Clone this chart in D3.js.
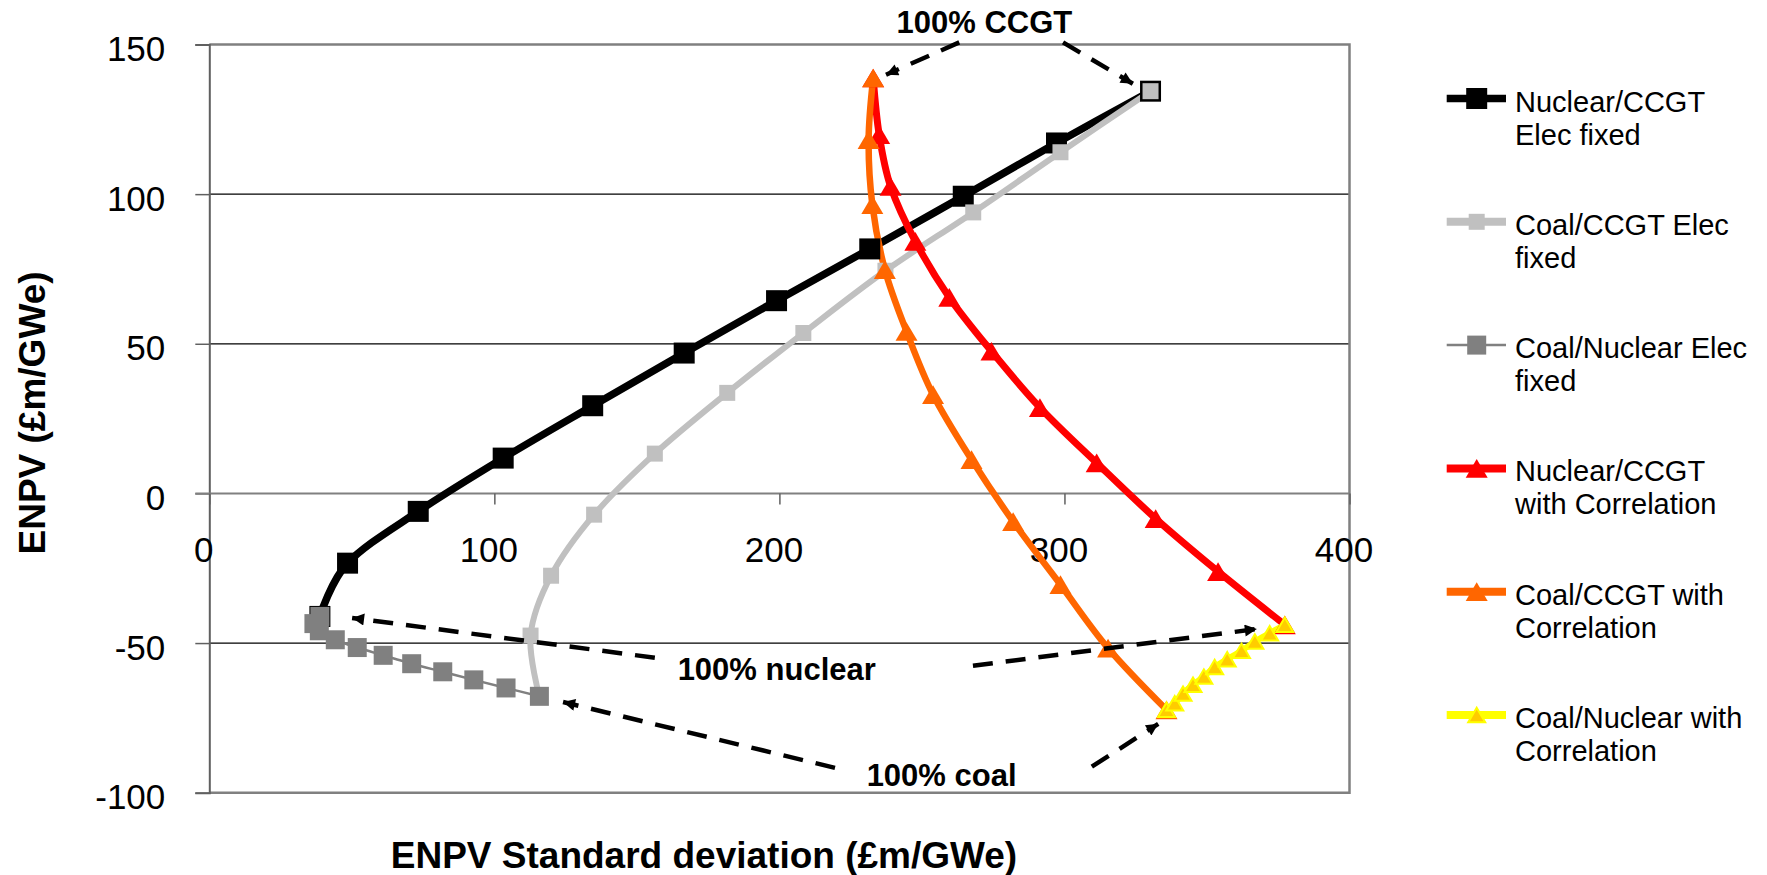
<!DOCTYPE html>
<html>
<head>
<meta charset="utf-8">
<script src="https://cdn.jsdelivr.net/npm/d3@7"></script>
<style>
  body { margin: 0; background: #fff; }
  svg { display: block; }
  text { font-family: Arial, "Liberation Sans", Helvetica, sans-serif; }
</style>
</head>
<body>
<svg id="chart" width="1767" height="875"></svg>
<script>
// ---- Data: ENPV (£m/GWe) against its standard deviation for two-technology portfolios ----
const xTicks = [0, 100, 200, 300, 400];
const yTicks = [150, 100, 50, 0, -50, -100];

// Nuclear/CCGT, electricity price fixed (0% -> 100% CCGT)
const nuclearCcgtFixedSd   = [38.8, 48.5, 73.3, 103.1, 134.5, 166.6, 199.0, 231.7, 264.5, 297.2, 330.2];
const nuclearCcgtFixedEnpv = [-41.1, -23.3, -6.0, 11.8, 29.3, 46.9, 64.4, 81.7, 99.3, 117.1, 134.4];

// Coal/CCGT, electricity price fixed (0% -> 100% CCGT)
const coalCcgtFixedSd   = [115.8, 112.7, 119.9, 135.0, 156.3, 181.7, 208.4, 237.2, 268.0, 298.6, 330.2];
const coalCcgtFixedEnpv = [-67.8, -47.5, -27.5, -7.1, 13.3, 33.6, 53.6, 74.4, 93.9, 114.0, 134.4];

// Coal/Nuclear, electricity price fixed (100% nuclear -> 100% coal)
const coalNuclearFixedSd   = [38.8, 36.7, 38.6, 44.2, 51.9, 61.0, 71.0, 81.9, 92.8, 104.1, 115.8];
const coalNuclearFixedEnpv = [-41.1, -43.5, -45.9, -48.9, -51.5, -54.1, -56.9, -59.6, -62.3, -65.0, -67.8];

// Nuclear/CCGT with correlation (100% CCGT -> 100% nuclear)
const nuclearCcgtCorrSd   = [232.9, 235.0, 239.0, 247.7, 259.6, 274.4, 291.4, 311.3, 332.0, 353.9, 377.3];
const nuclearCcgtCorrEnpv = [138.8, 119.9, 102.6, 84.2, 65.5, 47.5, 28.7, 10.2, -8.4, -26.1, -43.9];

// Coal/CCGT with correlation (100% CCGT -> 100% coal)
const coalCcgtCorrSd   = [232.9, 231.3, 232.6, 237.0, 244.6, 253.9, 267.4, 282.0, 298.6, 315.3, 335.8];
const coalCcgtCorrEnpv = [138.8, 118.2, 96.5, 74.8, 54.1, 33.0, 11.3, -9.4, -30.5, -51.7, -72.3];

// Coal/Nuclear with correlation (100% coal -> 100% nuclear)
const coalNuclearCorrSd   = [335.8, 338.7, 341.6, 345.1, 348.9, 352.7, 357.1, 362.1, 366.8, 372.0, 377.3];
const coalNuclearCorrEnpv = [-72.3, -70.1, -66.9, -63.9, -61.2, -58.0, -55.4, -52.6, -49.5, -46.7, -43.9];

const seriesNames = [
  "Nuclear/CCGT Elec fixed",
  "Coal/CCGT Elec fixed",
  "Coal/Nuclear Elec fixed",
  "Nuclear/CCGT with Correlation",
  "Coal/CCGT with Correlation",
  "Coal/Nuclear with Correlation"
];
const legendLines = [
  ["Nuclear/CCGT", "Elec fixed"],
  ["Coal/CCGT Elec", "fixed"],
  ["Coal/Nuclear Elec", "fixed"],
  ["Nuclear/CCGT", "with Correlation"],
  ["Coal/CCGT with", "Correlation"],
  ["Coal/Nuclear with", "Correlation"]
];

// Call-out labels and their dashed arrows, in data units
const calloutLabels = [
  { text: "100% CCGT",    sd: 241.1, enpv: 154.0 },
  { text: "100% nuclear", sd: 164.3, enpv: -62.3 },
  { text: "100% coal",    sd: 230.6, enpv: -97.7 }
];
const calloutArrows = [
  { from: [263.1, 150.7], to: [237.4, 139.9] },
  { from: [299.5, 150.7], to: [324.0, 136.9] },
  { from: [156.3, -54.9], to: [50.1, -41.6] },
  { from: [267.9, -57.6], to: [367.5, -45.3] },
  { from: [219.5, -91.7], to: [124.1, -69.7] },
  { from: [309.6, -91.3], to: [332.9, -77.0] }
];

// ---- Styling ----
const seriesStyle = [
  { stroke: "#000000", width: 7.5, marker: "square",   size: 21, fill: "#000000", mStroke: null,      legendWidth: 7.5 },
  { stroke: "#C0C0C0", width: 6,   marker: "square",   size: 16, fill: "#C0C0C0", mStroke: null,      legendWidth: 8 },
  { stroke: "#808080", width: 2.5, marker: "square",   size: 19, fill: "#808080", mStroke: null,      legendWidth: 2.5 },
  { stroke: "#FF0000", width: 7,   marker: "triangle", size: 22, fill: "#FF0000", mStroke: null,      legendWidth: 8 },
  { stroke: "#FF6600", width: 6.5, marker: "triangle", size: 22, fill: "#FF6600", mStroke: null,      legendWidth: 8 },
  { stroke: "#FFFF00", width: 6,   marker: "triangle", size: 17, fill: "#FFCC00", mStroke: "#FFFF00", legendWidth: 8 }
];

const series = [
  [nuclearCcgtFixedSd, nuclearCcgtFixedEnpv],
  [coalCcgtFixedSd, coalCcgtFixedEnpv],
  [coalNuclearFixedSd, coalNuclearFixedEnpv],
  [nuclearCcgtCorrSd, nuclearCcgtCorrEnpv],
  [coalCcgtCorrSd, coalCcgtCorrEnpv],
  [coalNuclearCorrSd, coalNuclearCorrEnpv]
].map(([xs, ys], i) => ({
  name: seriesNames[i],
  legend: legendLines[i],
  style: seriesStyle[i],
  points: xs.map((x, j) => ({ sd: x, enpv: ys[j] }))
}));

// ---- Layout ----
const svg = d3.select("#chart");
const plot = { left: 209.3, right: 1349.5, top: 44.5, bottom: 792.7 };

const x = d3.scaleLinear().domain([0, 400]).range([plot.left, plot.right]);
const y = d3.scaleLinear().domain([-100, 150]).range([plot.bottom, plot.top]);

// Plain hyphen-minus for negative tick labels
const tickText = d => String(d);

// Horizontal gridlines
svg.append("g")
  .selectAll("line")
  .data(yTicks.filter(v => v !== 0 && v !== 150 && v !== -100))
  .join("line")
  .attr("x1", plot.left).attr("x2", plot.right)
  .attr("y1", d => y(d)).attr("y2", d => y(d))
  .attr("stroke", "#000").attr("stroke-width", 1.3);

// Plot border (top, right, bottom)
svg.append("path")
  .attr("d", `M${plot.left},${y(150)} H${plot.right} V${plot.bottom} H${plot.left}`)
  .attr("fill", "none").attr("stroke", "#808080").attr("stroke-width", 2.5);

// Y axis (left edge)
const yAxis = d3.axisLeft(y).tickValues(yTicks).tickSize(14).tickFormat(tickText);
const gy = svg.append("g").attr("transform", `translate(${plot.left},0)`).call(yAxis);
gy.select(".domain").attr("stroke", "#606060").attr("stroke-width", 2);
gy.selectAll(".tick line").attr("stroke", "#606060").attr("stroke-width", 1.5);
gy.selectAll(".tick text")
  .attr("x", -44).attr("dy", null).attr("y", 16)
  .attr("font-size", 35).attr("fill", "#000")
  .style("font-family", "Arial, 'Liberation Sans', sans-serif");

// X axis crossing at ENPV = 0
const xAxis = d3.axisBottom(x).tickValues(xTicks).tickSize(11).tickFormat(tickText);
const gx = svg.append("g").attr("transform", `translate(0,${y(0)})`).call(xAxis);
gx.select(".domain").attr("stroke", "#808080").attr("stroke-width", 2)
  .attr("d", `M${plot.left - 14},0H${plot.right}`);
gx.selectAll(".tick line").attr("stroke", "#606060").attr("stroke-width", 1.5);
gx.selectAll(".tick text")
  .attr("y", 69).attr("dy", null).attr("dx", -6)
  .attr("font-size", 35).attr("fill", "#000")
  .style("font-family", "Arial, 'Liberation Sans', sans-serif");

// Axis titles
svg.append("text")
  .attr("x", 704).attr("y", 868)
  .attr("text-anchor", "middle")
  .attr("font-size", 37).attr("font-weight", "bold")
  .text("ENPV Standard deviation (£m/GWe)");

svg.append("text")
  .attr("transform", "translate(45,413) rotate(-90)")
  .attr("text-anchor", "middle")
  .attr("font-size", 37).attr("font-weight", "bold")
  .text("ENPV (£m/GWe)");

// ---- Series ----
const line = d3.line()
  .x(d => x(d.sd))
  .y(d => y(d.enpv))
  .curve(d3.curveCatmullRom.alpha(0));

function markerPath(kind, s) {
  if (kind === "square") {
    const h = s / 2;
    return `M${-h},${-h}H${h}V${h}H${-h}Z`;
  }
  const w = s, h = s * 0.85;
  return `M0,${-h / 2}L${w / 2},${h / 2}L${-w / 2},${h / 2}Z`;
}

// All connecting lines first, then the markers on top
const linesG = svg.append("g");
series.forEach(s => {
  linesG.append("path")
    .datum(s.points)
    .attr("d", line)
    .attr("fill", "none")
    .attr("stroke", s.style.stroke)
    .attr("stroke-width", s.style.width)
    .attr("stroke-linejoin", "round");
});

const markersG = svg.append("g");
series.forEach(s => {
  markersG.append("g")
    .selectAll("path")
    .data(s.points)
    .join("path")
    .attr("transform", d => `translate(${x(d.sd)},${y(d.enpv)})`)
    .attr("d", markerPath(s.style.marker, s.style.size))
    .attr("fill", s.style.fill)
    .attr("stroke", s.style.mStroke || "none")
    .attr("stroke-width", s.style.mStroke ? 2 : 0);
});

// ---- Call-outs ----
const defs = svg.append("defs");
defs.append("marker")
  .attr("id", "arrowHead")
  .attr("viewBox", "0 0 10 10")
  .attr("refX", 10).attr("refY", 5)
  .attr("markerWidth", 15).attr("markerHeight", 12)
  .attr("markerUnits", "userSpaceOnUse")
  .attr("orient", "auto")
  .append("path")
  .attr("d", "M0,0L10,5L0,10Z")
  .attr("fill", "#000");

svg.append("g")
  .selectAll("line")
  .data(calloutArrows)
  .join("line")
  .attr("x1", d => x(d.from[0])).attr("y1", d => y(d.from[1]))
  .attr("x2", d => x(d.to[0])).attr("y2", d => y(d.to[1]))
  .attr("stroke", "#000")
  .attr("stroke-width", 4.5)
  .attr("stroke-dasharray", "20 13")
  .attr("marker-end", "url(#arrowHead)");

svg.append("g")
  .selectAll("text")
  .data(calloutLabels)
  .join("text")
  .attr("x", d => x(d.sd)).attr("y", d => y(d.enpv))
  .attr("font-size", 31).attr("font-weight", "bold")
  .text(d => d.text);

// ---- Legend ----
const legend = svg.append("g");
const legendTop = 98.5, legendStep = 123.3;
const lx0 = 1446.7, lx1 = 1506, lmx = 1476.7, ltx = 1515;

series.forEach((s, i) => {
  const ly = legendTop + i * legendStep;
  const g = legend.append("g");
  g.append("line")
    .attr("x1", lx0).attr("x2", lx1).attr("y1", ly).attr("y2", ly)
    .attr("stroke", s.style.stroke).attr("stroke-width", s.style.legendWidth);
  g.append("path")
    .attr("transform", `translate(${lmx},${ly})`)
    .attr("d", markerPath(s.style.marker, s.style.size))
    .attr("fill", s.style.fill)
    .attr("stroke", s.style.mStroke || "none")
    .attr("stroke-width", s.style.mStroke ? 2 : 0);
  s.legend.forEach((t, k) => {
    g.append("text")
      .attr("x", ltx).attr("y", ly + 13 + k * 33)
      .attr("font-size", 29)
      .text(t);
  });
});
</script>
</body>
</html>
